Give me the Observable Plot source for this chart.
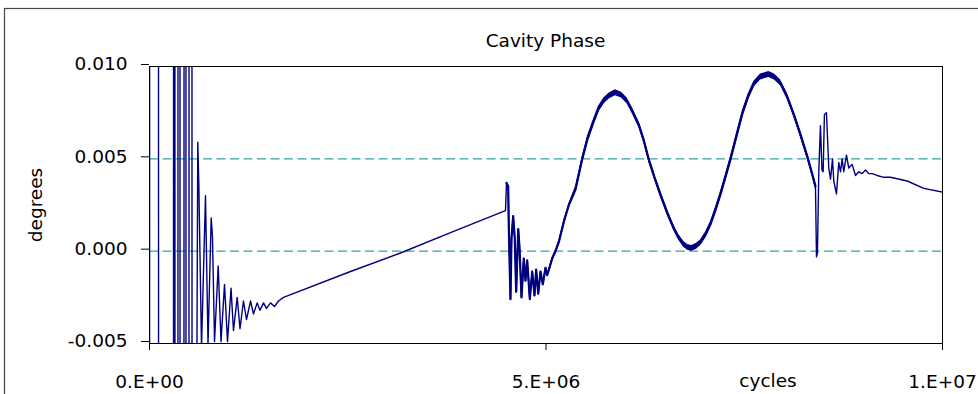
<!DOCTYPE html>
<html><head><meta charset="utf-8">
<script src="https://cdn.jsdelivr.net/npm/d3@7"></script>
<script src="https://cdn.jsdelivr.net/npm/@observablehq/plot@0.6"></script>
<style>html,body{margin:0;padding:0;background:#fff;overflow:hidden}</style>
</head><body><div id="chart"></div>
<script>
// x values in millions of cycles, y values in degrees
const x1 = [0, 0.002, 0.113, 0.115, 0.302, 0.304, 0.320, 0.322, 0.358, 0.360, 0.384, 0.386, 0.434, 0.436, 0.459, 0.461, 0.497, 0.499, 0.535, 0.537, 0.598, 0.609, 0.622, 0.656, 0.706, 0.738, 0.778, 0.794, 0.820, 0.866, 0.902, 0.946, 0.984, 1.028, 1.059, 1.106, 1.141, 1.185, 1.223, 1.274, 1.311, 1.358, 1.393, 1.438, 1.475, 1.526, 1.576, 1.627, 1.690, 2.535, 3.165, 3.796, 4.489];
const y1 = [-0.03, 0.03, 0.03, -0.03, -0.03, 0.03, 0.03, -0.03, -0.03, 0.03, 0.03, -0.03, -0.03, 0.03, 0.03, -0.03, -0.03, 0.03, 0.03, -0.03, -0.0055, 0.0059, 0.0036, -0.0052, 0.0030, -0.0050, 0.0018, 0.0008, -0.0049, -0.0008, -0.0049, -0.0018, -0.0049, -0.0020, -0.0043, -0.0025, -0.0042, -0.0027, -0.0037, -0.0027, -0.0034, -0.0028, -0.0032, -0.0028, -0.0031, -0.0028, -0.0030, -0.0027, -0.0025, -0.0011, -0.0001, 0.0010, 0.0022];

const x2 = [4.502, 4.523, 4.531, 4.552, 4.565, 4.586, 4.606, 4.624, 4.650, 4.666, 4.691, 4.720, 4.741, 4.763, 4.796, 4.826, 4.855, 4.876, 4.902, 4.931, 4.960, 4.994, 5.015, 5.044, 5.078, 5.120, 5.162, 5.225, 5.288, 5.372, 5.456, 5.523, 5.603, 5.662, 5.729, 5.801, 5.876, 5.952, 6.024, 6.091, 6.170, 6.229, 6.296, 6.368, 6.444, 6.532, 6.611, 6.671, 6.738, 6.791, 6.843, 6.898, 6.948, 7.011, 7.074, 7.137, 7.200, 7.263, 7.326, 7.402, 7.474, 7.547, 7.620, 7.705, 7.810, 7.881, 7.957, 8.039, 8.125, 8.209, 8.294, 8.348, 8.398];
const y2 = [0.0037, 0.0035, 0.0013, -0.0026, 0.0007, 0.0019, 0.0007, -0.0022, 0.0012, 0.0002, -0.0025, -0.0004, -0.0016, -0.0005, -0.0026, -0.0011, -0.0024, -0.0010, -0.0023, -0.0011, -0.0018, -0.0009, -0.0013, -0.0009, -0.0004, 0.0000, 0.0005, 0.0016, 0.0025, 0.00334, 0.00497, 0.00607, 0.00704, 0.00769, 0.00813, 0.00842, 0.00858, 0.00845, 0.00813, 0.00758, 0.00686, 0.00607, 0.00497, 0.00401, 0.00307, 0.00206, 0.00126, 0.00076, 0.00036, 0.00019, 0.00015, 0.00027, 0.00045, 0.00087, 0.00145, 0.00222, 0.00307, 0.00401, 0.00497, 0.00623, 0.00741, 0.00834, 0.00903, 0.00943, 0.00957, 0.00943, 0.00912, 0.00840, 0.00741, 0.00632, 0.00515, 0.00433, 0.00352];

const x3 = [8.411, 8.423, 8.440, 8.461, 8.480, 8.495, 8.511, 8.537, 8.566, 8.588, 8.613, 8.629, 8.663, 8.692, 8.714, 8.735, 8.755, 8.789, 8.818, 8.861, 8.903, 8.944, 8.987, 9.029, 9.070, 9.113, 9.176, 9.259, 9.344, 9.555, 9.764, 10.000];
const y3 = [-0.0003, -0.0001, 0.0043, 0.0068, 0.0044, 0.0043, 0.0074, 0.0075, 0.0045, 0.0039, 0.0050, 0.0038, 0.0031, 0.0048, 0.0043, 0.0050, 0.0043, 0.0052, 0.0045, 0.0047, 0.0041, 0.0043, 0.0042, 0.0044, 0.0042, 0.0042, 0.0041, 0.0040, 0.0040, 0.0038, 0.0034, 0.0032];

// half-width of the fast ripple envelope (degrees), by x range (millions of cycles)
const ripple = [{from: 4.5, to: 5.33, amp: 0.00006}, {from: 5.33, to: 8.4, amp: 0.00016}];

const yTicks = [-0.005, 0, 0.005, 0.010];
const yTickLabels = ["-0.005", "0.000", "0.005", "0.010"];
const xTicks = [0, 5e6, 1e7];
const xTickLabels = ["0.E+00", "5.E+06", "1.E+07"];
const gridY = [0, 0.005];

const toRows = (xs, ys) => xs.map((x, i) => ({x: x * 1e6, y: ys[i]}));
const seg1 = toRows(x1, y1), seg2 = toRows(x2, y2), seg3 = toRows(x3, y3);
const all = seg1.concat(seg2, seg3);
const band = seg2.map(d => {
  const r = ripple.find(r => d.x / 1e6 >= r.from && d.x / 1e6 < r.to) || ripple[ripple.length - 1];
  return {x: d.x, lo: d.y - r.amp, hi: d.y + r.amp};
});

const navy = "#000080";
const FONT = "DejaVu Sans";
const chart = Plot.plot({
  width: 978, height: 394,
  marginLeft: 149, marginRight: 36, marginTop: 66, marginBottom: 51,
  style: {fontFamily: FONT, fontSize: "18.5px", background: "#fff", color: "#000"},
  x: {domain: [0, 1e7], label: null},
  y: {domain: [-0.005, 0.010], label: null},
  marks: [
    Plot.ruleY(gridY, {stroke: "#33a3a3", strokeWidth: 1.3, strokeDasharray: "9,4.5"}),
    Plot.areaY(band, {x: "x", y1: "lo", y2: "hi", fill: navy, clip: true}),
    Plot.line(all, {x: "x", y: "y", stroke: navy, strokeWidth: 1.4, clip: true}),
    Plot.line(seg2, {x: "x", y: "y", stroke: navy, strokeWidth: 2.2, clip: true}),
    Plot.frame({stroke: "#000"}),
    Plot.axisY(yTicks, {tickFormat: d => yTickLabels[yTicks.indexOf(d)], tickSize: 8, tickPadding: 14, dy: -2, label: null, fontSize: 18.5, stroke: "#000"}),
    Plot.axisX(xTicks, {tickFormat: d => xTickLabels[xTicks.indexOf(d)], tickSize: 7, tickPadding: 24, label: null, fontSize: 18.5, stroke: "#000"})
  ]
});
document.getElementById("chart").appendChild(chart);

const svg = d3.select(chart);
svg.append("rect").attr("x", 4.5).attr("y", 8.5).attr("width", 990).attr("height", 400)
  .attr("fill", "none").attr("stroke", "#444").attr("stroke-width", 1.2);
const addText = (t, x, y, rot) => {
  const el = svg.append("text").text(t).attr("text-anchor", "middle")
    .attr("font-family", FONT).attr("font-size", 18.5).attr("fill", "#000");
  if (rot) el.attr("transform", `translate(${x},${y}) rotate(${rot})`);
  else el.attr("x", x).attr("y", y);
};
addText("Cavity Phase", 545.5, 47);
addText("degrees", 42, 205, -90);
addText("cycles", 768, 387);
</script></body></html>
